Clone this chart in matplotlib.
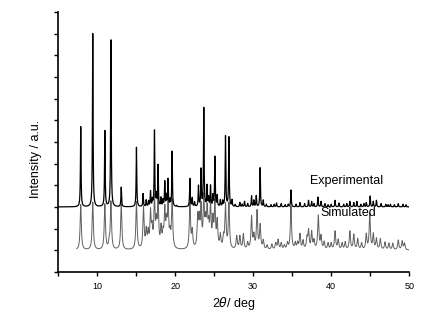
import numpy as np
import matplotlib
matplotlib.use("Agg")
import matplotlib.pyplot as plt

# peak list: position (2theta, deg) and height (a.u.)
exp_pos = [7.91, 9.45, 11.0, 11.78, 13.1, 15.05, 15.9, 16.3, 16.6, 16.85, 17.1, 17.36,
           17.6, 17.82, 18.2, 18.45, 18.68, 18.9, 19.1, 19.35, 19.62, 20.2, 21.9, 22.2,
           22.5, 23.0, 23.33, 23.68, 24.1, 24.3, 24.54, 24.85, 25.1, 25.4, 25.8, 26.1,
           26.46, 26.9, 27.3, 27.7, 28.3, 28.6, 28.9, 29.3, 29.8, 30.1, 30.4, 30.9,
           31.3, 31.7, 32.3, 32.7, 33.0, 33.6, 34.1, 34.5, 34.85, 35.5, 36.0, 36.6,
           37.1, 37.5, 37.8, 38.3, 38.7, 39.2, 39.6, 40.0, 40.5, 41.0, 41.6, 42.0,
           42.4, 42.9, 43.3, 43.8, 44.2, 44.5, 45.0, 45.4, 45.8, 46.4, 47.0, 47.3,
           47.6, 48.1, 48.6, 49.2, 49.6]
exp_height = [3.7, 8.0, 3.5, 7.7, 0.9, 2.75, 0.6, 0.3, 0.25, 0.7, 0.3, 3.5,
              0.5, 1.9, 0.4, 0.3, 1.15, 0.5, 1.25, 0.3, 2.55, 0.05, 1.3, 0.4,
              0.2, 0.95, 1.7, 4.55, 0.95, 0.4, 0.95, 0.5, 2.3, 0.5, 0.3, 0.25,
              3.25, 3.2, 0.3, 0.1, 0.2, 0.12, 0.25, 0.15, 0.5, 0.3, 0.5, 1.8,
              0.3, 0.12, 0.1, 0.12, 0.18, 0.15, 0.1, 0.12, 0.78, 0.12, 0.2, 0.15,
              0.3, 0.25, 0.15, 0.45, 0.25, 0.15, 0.1, 0.12, 0.3, 0.18, 0.12, 0.15,
              0.25, 0.2, 0.25, 0.12, 0.15, 0.2, 0.5, 0.25, 0.3, 0.15, 0.12, 0.1,
              0.12, 0.1, 0.15, 0.12, 0.1]

sim_pos = [7.91, 9.45, 11.0, 11.55, 11.78, 13.1, 15.05, 15.95, 16.3, 16.55, 16.85, 17.05,
           17.36, 17.6, 17.82, 18.2, 18.45, 18.68, 18.9, 19.1, 19.35, 19.62, 21.9, 22.2,
           22.9, 23.1, 23.33, 23.68, 23.9, 24.1, 24.3, 24.54, 24.85, 25.1, 25.4, 25.8,
           26.2, 26.46, 26.9, 27.9, 28.3, 28.75, 29.3, 29.8, 30.1, 30.5, 30.9, 31.3,
           31.8, 32.4, 32.9, 33.2, 33.6, 34.0, 34.4, 34.85, 35.4, 35.7, 36.0, 36.4,
           36.9, 37.1, 37.5, 37.8, 38.35, 38.7, 39.1, 39.6, 40.0, 40.5, 40.9, 41.4,
           41.8, 42.4, 42.9, 43.4, 43.9, 44.5, 44.95, 45.4, 45.8, 46.3, 46.9, 47.4,
           47.9, 48.6, 49.1, 49.4]
sim_height = [2.1, 2.2, 2.1, 0.3, 2.2, 2.1, 2.2, 1.9, 0.8, 0.7, 1.6, 0.8,
              2.2, 1.0, 2.1, 0.9, 0.6, 1.7, 1.0, 1.9, 0.6, 2.2, 2.1, 0.8,
              1.4, 1.2, 1.8, 2.2, 1.0, 1.6, 0.9, 1.9, 1.2, 2.0, 1.2, 0.6,
              0.5, 2.0, 2.1, 0.6, 0.6, 0.7, 0.3, 1.5, 0.6, 1.75, 1.1, 0.4,
              0.2, 0.25, 0.3, 0.45, 0.3, 0.2, 0.3, 2.0, 0.3, 0.3, 0.7, 0.4,
              0.5, 0.85, 0.8, 0.4, 1.55, 0.6, 0.35, 0.3, 0.3, 0.85, 0.45, 0.3,
              0.35, 0.85, 0.7, 0.5, 0.3, 0.7, 1.65, 0.7, 0.5, 0.5, 0.35, 0.3,
              0.3, 0.45, 0.4, 0.3]

exp_offset = 3.0
sim_offset = 1.0
xticks = [10, 20, 30, 40, 50]


def profile(x, pos, height, gamma):
    # sum of lorentzian peaks
    y = np.zeros_like(x)
    for p, h in zip(pos, height):
        y += h * gamma**2 / ((x - p)**2 + gamma**2)
    return y


x_exp = np.arange(5.0, 50.0, 0.005)
x_sim = np.arange(7.4, 50.0, 0.005)
y_exp = profile(x_exp, exp_pos, exp_height, 0.045) + exp_offset
y_sim = profile(x_sim, sim_pos, sim_height, 0.09) + sim_offset

plt.rcParams['font.family'] = ['Liberation Sans', 'DejaVu Sans']

fig = plt.figure(figsize=(4.33, 3.18), dpi=100)
ax = fig.add_axes([0.134, 0.145, 0.811, 0.817])

ax.plot(x_sim, y_sim, color='#606060', lw=0.7)
ax.plot(x_exp, y_exp, color='black', lw=0.9)

ax.text(42.0, 4.2, "Experimental", fontsize=9, ha='center', va='center')
ax.text(42.2, 2.72, "Simulated", fontsize=9, ha='center', va='center')

ax.set_xlim(5, 50)
ax.set_ylim(0, 12)
ax.set_xticks(np.arange(5, 51, 5))
ax.set_xticklabels([str(t) if t in xticks else "" for t in range(5, 51, 5)])
ax.set_yticks(np.arange(0, 13, 1))
ax.set_yticklabels([])
ax.tick_params(direction='out', length=3, width=1, labelsize=6.5, pad=4)

for side in ['top', 'right']:
    ax.spines[side].set_visible(False)
for side in ['left', 'bottom']:
    ax.spines[side].set_linewidth(1.2)

ax.set_xlabel(r"2$\theta$/ deg", fontsize=9, labelpad=3)
ax.set_ylabel("Intensity / a.u.", fontsize=9)
ax.yaxis.set_label_coords(-0.045, 0.435)

fig.savefig("out.png", dpi=100)
